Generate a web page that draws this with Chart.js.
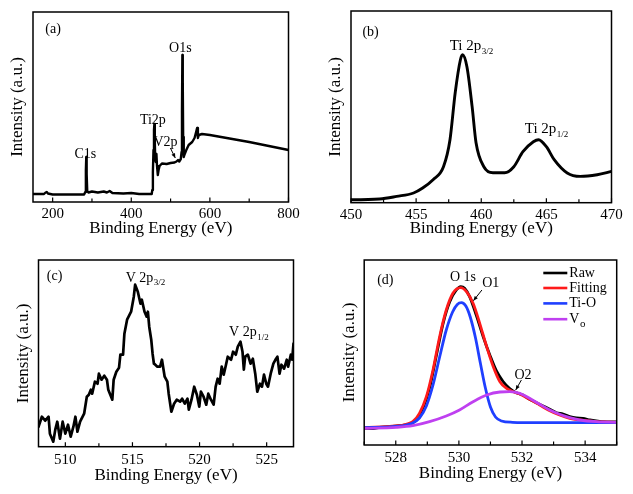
<!DOCTYPE html>
<html><head><meta charset="utf-8">
<script src="https://cdn.jsdelivr.net/npm/chart.js@4.4.0/dist/chart.umd.min.js"></script>
<style>
html,body{margin:0;padding:0;background:#fff;width:633px;height:494px;overflow:hidden}
canvas{position:absolute}
</style></head><body>
<canvas id="ca" width="316" height="247" style="left:0;top:0"></canvas>
<canvas id="cb" width="317" height="247" style="left:316px;top:0"></canvas>
<canvas id="cc" width="316" height="247" style="left:0;top:247px"></canvas>
<canvas id="cd" width="317" height="247" style="left:316px;top:247px"></canvas>
<script>
// ---------- (a) survey ----------
const aEnergy = [150,178,182,185,188,200,240,280,283,284.5,285.5,286.5,288,291,300,315,330,338,345,352,380,400,420,452,453.5,455,456.5,457.8,458.8,459.8,461,462.5,464,465.5,467.5,469.5,472,478,490,500,510,515,519,522,526,528,529,530,531,532,533.5,536,540,546,555,561,565,567.5,569.5,572,580,600,650,700,750,800];
const aIntensity = [8,8,9.5,10,8.5,7.5,7.5,7.5,10,32,45,28,11,9.5,10.5,9.5,10.5,9.5,11,9,8.5,9,8,8,12,30,52,72,78,62,42,40,48,36,27,32,36,38.5,38,39,39.5,40.5,42,40.5,43,50,90,147,120,65,45,48,52,57,60,64,70,74,64,67,68,67,63.5,60,56,52];
const aTicks = [200,400,600,800];

// ---------- (b) Ti 2p ----------
const bEnergy = [450.0,450.1,452.2,453.5,454.8,455.5,456.3,457.1,457.6,458.0,458.4,458.56,458.9,459.3,459.6,460.2,460.9,461.8,462.5,463.2,464.0,464.4,465.0,465.6,466.6,467.6,468.9,470];
const bIntensity = [3,3,3.7,6.3,9.7,14.7,23,36,63,110,143,148,136,96,60,36,30,30,36,51,61,63,56,43,29.7,26.3,28,31.3];
const bTicks = [450,455,460,465,470];

// ---------- (c) V 2p ----------
const cEnergy = [508.0,508.25,508.5,508.75,508.85,509.1,509.25,509.4,509.6,509.8,510.0,510.2,510.4,510.6,510.75,510.9,511.1,511.4,511.6,511.75,511.9,512.0,512.2,512.4,512.5,512.7,512.9,513.1,513.2,513.5,513.6,513.8,514.0,514.1,514.3,514.4,514.6,514.9,515.1,515.2,515.4,515.6,515.7,515.9,516.06,516.15,516.25,516.4,516.5,516.6,516.7,516.86,517.06,517.2,517.4,517.6,517.7,517.9,518.1,518.3,518.55,518.7,518.9,519.1,519.2,519.4,519.6,519.8,519.98,520.1,520.3,520.5,520.65,520.85,521.05,521.2,521.35,521.5,521.65,521.8,521.97,522.1,522.35,522.5,522.7,522.85,523.05,523.2,523.3,523.4,523.6,523.8,523.97,524.15,524.3,524.5,524.65,524.8,524.97,525.1,525.3,525.5,525.7,525.8,525.96,526.1,526.3,526.5,526.6,526.8,526.9,527.0];
const cIntensity = [20,30,26,30,13,5,17,25,8,25,13,22,10,20,30,15,25,33,50,52,57,53,65,63,73,67,71,67,57,47,67,75,79,92,92,113,127,135,150,162,155,143,147,135,130,135,120,107,93,83,82,80,80,87,70,65,53,35,43,47,45,48,43,48,37,47,60,52,40,55,50,42,53,47,42,60,68,63,80,72,82,90,87,95,92,100,105,95,77,90,92,83,88,73,55,63,60,72,63,60,73,83,88,90,73,82,78,87,80,92,87,103];
const cTicks = [510,515,520,525];

// ---------- (d) O 1s ----------
const dRawEnergy = [527.01,527.28,527.49,527.81,528.12,528.44,528.65,528.86,529.08,529.29,529.50,529.71,529.92,530.06,530.18,530.34,530.55,530.77,530.98,531.19,531.40,531.61,531.82,532.03,532.24,532.46,532.67,532.88,533.09,533.30,533.51,533.72,533.93,534.15,534.46,534.99];
const dRawIntensity = [16.7,16.3,17.7,18.3,19.3,21,25,36.7,58.3,90,121.7,143.3,155,158.3,156.7,148.3,130,108.3,90,74,63.5,56.5,52.3,50,45.7,42.3,39,35.7,32.3,31,28.3,27,26.7,25,23.7,23];
const dFitEnergy = [527.01,528.01,528.33,528.54,528.75,528.97,529.18,529.39,529.6,529.81,530.06,530.24,530.45,530.66,530.88,531.09,531.3,531.51,531.72,531.93,532.24,532.56,532.88,533.19,533.51,533.83,534.36,534.99];
const dFitIntensity = [17.3,19,20.7,23.3,31.7,48.3,75,108.3,135,151.7,157.3,153.3,141.7,121.7,98.3,78.3,63.3,56.7,53.3,51,45.7,40,34.3,30,26.7,25,23.3,22.7];
const dTiOEnergy = [527.01,528.01,528.5,528.75,528.97,529.18,529.39,529.6,529.8,529.95,530.08,530.22,530.36,530.52,530.68,530.84,531.0,531.16,531.35,531.7,532.5,534.99];
const dTiOIntensity = [17.3,18.5,21.5,27,39,60,88,115,133,140.5,142.3,139,128,108,82,57,38,28,24,22.7,22.3,22.3];
const dVoEnergy = [527.01,528.01,528.54,529.07,529.6,530.02,530.45,530.88,531.3,531.61,531.93,532.24,532.56,532.88,533.19,533.51,533.83,534.36,534.99];
const dVoIntensity = [16.7,17.7,19.3,23.3,29,35,43.3,50,53,53.3,51.7,46.7,40.7,35,30.7,27.3,25,23.3,22.7];
const dTicks = [528,530,532,534];
const dLegend = ['Raw','Fitting','Ti-O','V'];

const FONT = "'Liberation Serif','Times New Roman',serif";
function pts(xs, ys){ return xs.map((x,i)=>({x:x, y:ys[i]})); }

function drawLabel(ctx, x, y, t, sub, size, align, subSize, subDrop){
  ctx.font = size + 'px ' + FONT;
  ctx.textAlign = align || 'center';
  ctx.textBaseline = sub !== undefined ? 'alphabetic' : 'middle';
  ctx.fillText(t, x, y);
  if (sub !== undefined){
    const w = ctx.measureText(t).width;
    ctx.textAlign = 'left';
    ctx.font = (subSize || Math.round(size*0.62)) + 'px ' + FONT;
    ctx.fillText(sub, x + w + 0.5, y + (subDrop !== undefined ? subDrop : 3.5));
  }
}

function arrow(ctx, x1, y1, x2, y2){
  ctx.beginPath(); ctx.moveTo(x1,y1); ctx.lineTo(x2,y2); ctx.lineWidth=1; ctx.stroke();
  const ang = Math.atan2(y2-y1, x2-x1), L=5, s=0.4;
  ctx.beginPath();
  ctx.moveTo(x2,y2);
  ctx.lineTo(x2 - L*Math.cos(ang-s), y2 - L*Math.sin(ang-s));
  ctx.lineTo(x2 - L*Math.cos(ang+s), y2 - L*Math.sin(ang+s));
  ctx.closePath(); ctx.fill();
}

function makeFrame(spec){
  return {
    id:'frame',
    afterDraw(chart){
      const {ctx, chartArea:a, scales:{x,y}} = chart;
      ctx.save();
      ctx.strokeStyle='#000'; ctx.fillStyle='#000';
      ctx.lineWidth=1.5;
      ctx.strokeRect(a.left, a.top, a.right-a.left, a.bottom-a.top);
      const t = spec.ticks, half = (t[1]-t[0])/2;
      ctx.lineWidth=1.2;
      let v0 = t[0]; while (v0 - half >= x.min - 1e-9) v0 -= half;
      for (let v=v0; v<=x.max+1e-9; v+=half){
        const isMajor = t.some(m=>Math.abs(m-v)<1e-6);
        const px = x.getPixelForValue(v);
        ctx.beginPath(); ctx.moveTo(px, a.bottom); ctx.lineTo(px, a.bottom-(isMajor?4.5:3.5)); ctx.stroke();
      }
      (spec.notes||[]).forEach(n=>{
        drawLabel(ctx, x.getPixelForValue(n.x), y.getPixelForValue(n.y), n.t, n.sub, n.size||14, n.align, n.subSize);
      });
      (spec.arrows||[]).forEach(r=>{
        arrow(ctx, x.getPixelForValue(r[0]), y.getPixelForValue(r[1]), x.getPixelForValue(r[2]), y.getPixelForValue(r[3]));
      });
      if (spec.legend){
        const lg = spec.legend;
        spec.datasets.forEach((d,i)=>{
          const yy = lg.y0 + i*lg.dy[i];
          ctx.strokeStyle = d.color; ctx.lineWidth = 2.6;
          ctx.beginPath(); ctx.moveTo(lg.x1, yy); ctx.lineTo(lg.x2, yy); ctx.stroke();
          ctx.fillStyle='#000';
          drawLabel(ctx, lg.x2+2, d.sub!==undefined ? yy+4 : yy, d.label, d.sub, 14, 'left', 11, 4);
        });
      }
      ctx.restore();
    }
  };
}

function panel(id, W, H, box, spec){
  const [L,T,R,B] = box;
  new Chart(document.getElementById(id), {
    type:'line',
    data:{datasets: spec.datasets.map(d=>({
      data: pts(d.x, d.y), borderColor: d.color, borderWidth: d.w || 2.5,
      pointRadius: 0, fill: false, tension: d.smooth ? 0.4 : 0,
      cubicInterpolationMode: d.smooth ? 'monotone' : 'default', order: d.order || 0,
      borderJoinStyle:'round', borderCapStyle:'round'
    }))},
    options:{
      responsive:false, animation:false, devicePixelRatio:1,
      layout:{padding:{left:0, top:T, right:W-R, bottom:0}},
      plugins:{legend:{display:false}, tooltip:{enabled:false}},
      scales:{
        x:{type:'linear', min:spec.xMin, max:spec.xMax,
           grid:{display:false, drawTicks:false}, border:{display:false},
           afterBuildTicks: s=>{ s.ticks = spec.ticks.map(v=>({value:v})); },
           afterFit: s=>{ s.height = H-B; },
           ticks:{color:'#000', font:{family:FONT,size:15}, padding:spec.tickPad, maxRotation:0, autoSkip:false},
           title:{display:true, text:'Binding Energy (eV)', color:'#000', font:{family:FONT,size:17}, padding:{top:0,bottom:spec.xTitlePad}}},
        y:{type:'linear', min:0, max:spec.yMax,
           grid:{display:false, drawTicks:false}, border:{display:false},
           ticks:{display:false},
           afterFit: s=>{ s.width = L; },
           title:{display:true, text:'Intensity (a.u.)', color:'#000', font:{family:FONT,size:17}, padding:{top:spec.yTitlePad,bottom:0}}}
      }
    },
    plugins:[makeFrame(spec)]
  });
}

panel('ca', 316, 247, [33,12,288.5,202], {
  xMin:150, xMax:800, yMax:190, ticks:aTicks, tickPad:3, xTitlePad:8, yTitlePad:7,
  datasets:[{x:aEnergy, y:aIntensity, color:'#000', w:2.4}],
  notes:[{t:'(a)',x:201,y:173},{t:'O1s',x:525,y:154},{t:'Ti2p',x:455,y:82},{t:'V2p',x:487,y:60},{t:'C1s',x:283,y:48}],
  arrows:[[499.5,54,512,44]]
});

panel('cb', 317, 247, [35,11,295.5,202.7], {
  xMin:450, xMax:470, yMax:191.7, ticks:bTicks, tickPad:3, xTitlePad:8, yTitlePad:9,
  datasets:[{x:bEnergy, y:bIntensity, color:'#000', w:2.9, smooth:true}],
  notes:[{t:'(b)',x:451.5,y:170.7},{t:'Ti 2p',sub:'3/2',x:457.58,y:152.5,size:15,align:'left'},{t:'Ti 2p',sub:'1/2',x:463.34,y:69.7,size:15,align:'left'}]
});

panel('cc', 316, 247, [38.5,13,293.5,199.7], {
  xMin:508, xMax:527, yMax:186.7, ticks:cTicks, tickPad:4, xTitlePad:8, yTitlePad:13,
  datasets:[{x:cEnergy, y:cIntensity, color:'#000', w:2.7}],
  notes:[{t:'(c)',x:509.2,y:170.7},{t:'V 2p',sub:'3/2',x:514.5,y:165,size:14,align:'left'},{t:'V 2p',sub:'1/2',x:522.2,y:110.7,size:14,align:'left'}]
});

panel('cd', 317, 247, [48.2,13,300.7,198], {
  xMin:527, xMax:535, yMax:185, ticks:dTicks, tickPad:4, xTitlePad:10, yTitlePad:23,
  datasets:[
    {x:dRawEnergy, y:dRawIntensity, color:'#000', w:2.8, smooth:true, order:4, label:dLegend[0]},
    {x:dFitEnergy, y:dFitIntensity, color:'#ff1a1a', w:2.8, smooth:true, order:3, label:dLegend[1]},
    {x:dTiOEnergy, y:dTiOIntensity, color:'#1f3fff', w:2.8, smooth:true, order:2, label:dLegend[2]},
    {x:dVoEnergy, y:dVoIntensity, color:'#bf40f0', w:2.8, smooth:true, order:1, label:dLegend[3], sub:'o'}
  ],
  notes:[{t:'(d)',x:527.67,y:165},{t:'O 1s',x:530.13,y:167.7},{t:'O1',x:531.01,y:161.7},{t:'O2',x:532.03,y:70}],
  arrows:[[530.73,155,530.46,144.3],[531.98,65,531.80,55]],
  legend:{x1:227.3, x2:251.3, y0:26, dy:[15,15,15.2,15.4]}
});
</script>
</body></html>
